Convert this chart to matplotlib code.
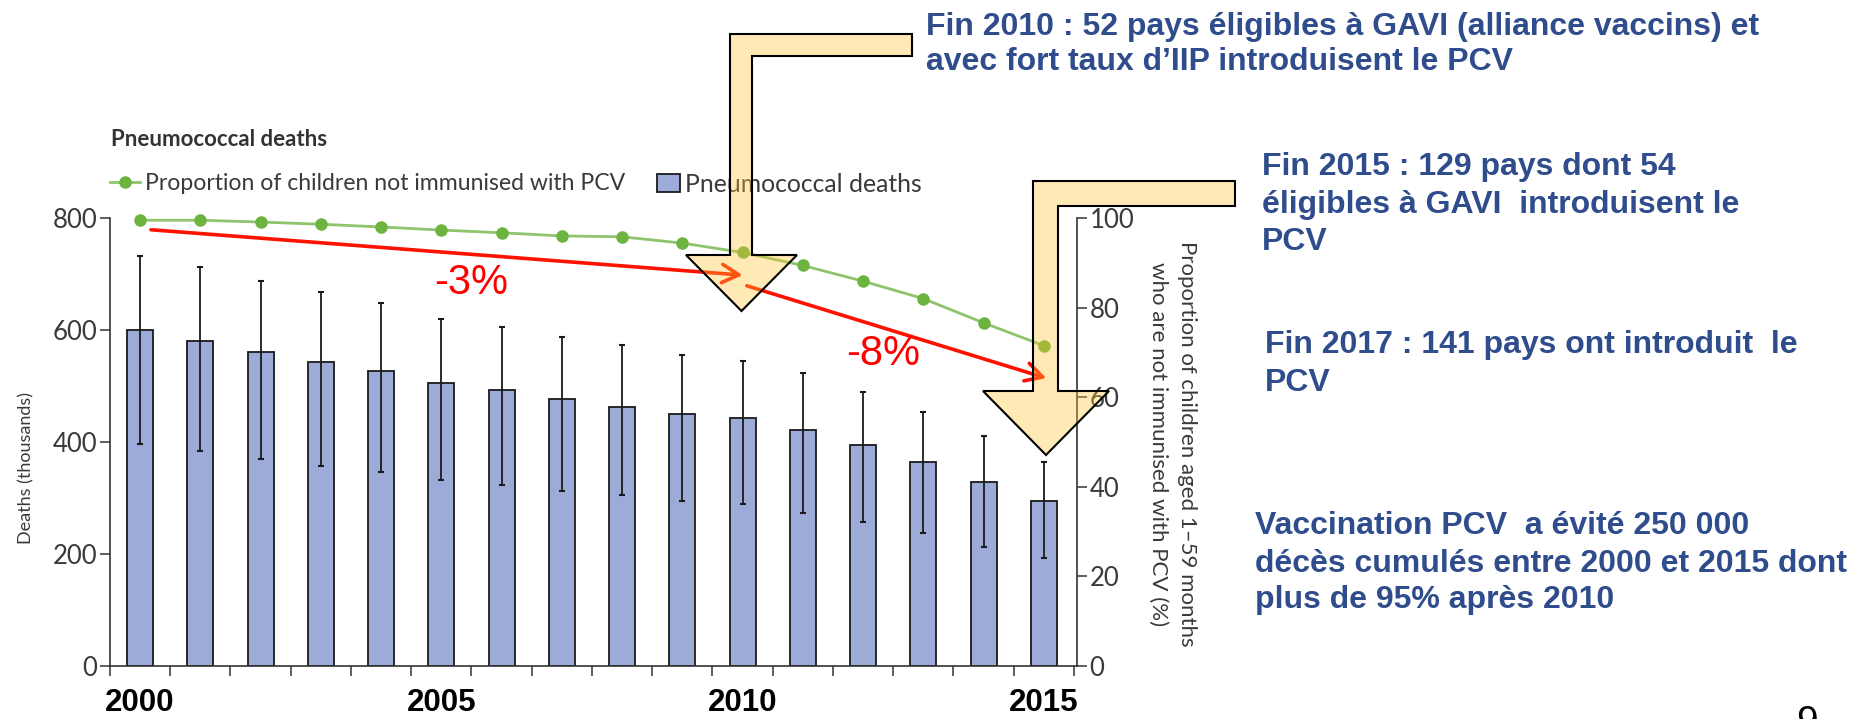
import matplotlib
matplotlib.use('Agg')
import matplotlib.pyplot as plt
from matplotlib.patches import Polygon
import numpy as np

# ---------------- data ----------------
years = [2000, 2001, 2002, 2003, 2004, 2005, 2006, 2007,
         2008, 2009, 2010, 2011, 2012, 2013, 2014, 2015]
deaths = [600, 580, 560, 542, 526, 506, 492, 476,
          463, 450, 442, 421, 395, 364, 329, 294]
deaths_hi = [733, 713, 688, 667, 648, 620, 605, 588,
             573, 555, 545, 523, 489, 454, 410, 365]
deaths_lo = [396, 384, 370, 357, 346, 332, 324, 313,
             305, 294, 289, 274, 258, 237, 213, 192]
not_immunised = [99.5, 99.5, 99.1, 98.6, 98.0, 97.3, 96.7, 96.0,
                 95.8, 94.4, 92.3, 89.4, 85.9, 82.0, 76.6, 71.5]
xtick_years = [2000, 2005, 2010, 2015]
left_ticks = [0, 200, 400, 600, 800]
right_ticks = [0, 20, 40, 60, 80, 100]

W, H = 1861, 719
fig = plt.figure(figsize=(W / 100, H / 100), dpi=100)
fig.patch.set_facecolor('white')


def fx(x):
    return x / W


def fy(y):
    return 1 - y / H


CHART_FONT = ['Lato', 'DejaVu Sans']
SANS = ['Liberation Sans', 'DejaVu Sans']
GREY = '#3a3a3a'
BLUE = '#2F4C8C'

ax = fig.add_axes([fx(110), fy(666), (1077 - 110) / W, (666 - 218) / H])

d = np.array(deaths)
yerr = [d - np.array(deaths_lo), np.array(deaths_hi) - d]
bars = ax.bar(years, deaths, width=0.43, color='#9DABD8', edgecolor='#1a1a1a',
              linewidth=1.3, zorder=2, label='Pneumococcal deaths')
ax.errorbar(years, deaths, yerr=yerr, fmt='none', ecolor='#1a1a1a',
            elinewidth=1.3, capsize=2.5, capthick=1.5, zorder=3)

ax.set_xlim(1999.5, 2015.55)
ax.set_ylim(0, 800)
ax.set_yticks(left_ticks)
ax.set_xticks(xtick_years)
ax.set_xticklabels([str(y) for y in xtick_years], fontweight='bold',
                   fontsize=22.5, family=SANS)
ax.set_xticks(np.arange(1999.5, 2016, 1.0), minor=True)
ax.tick_params(axis='x', which='major', length=0, pad=15.5)
ax.tick_params(axis='x', which='minor', length=7, width=1.1, direction='out',
               color='#333333')
ax.tick_params(axis='y', length=7, width=1.1, color='#333333', labelsize=18.5,
               labelcolor=GREY, pad=2)
for lab in ax.get_yticklabels():
    lab.set_family(CHART_FONT)
for s in ['top', 'right']:
    ax.spines[s].set_visible(False)
for s in ['left', 'bottom']:
    ax.spines[s].set_color('#333333')
    ax.spines[s].set_linewidth(1.2)

ax2 = ax.twinx()
ax2.set_ylim(0, 100)
ax2.set_yticks(right_ticks)
line, = ax2.plot(years, not_immunised, color='#8DC46C', lw=2, marker='o',
                 ms=8, mfc='#6DB33F', mec='#6DB33F', clip_on=False, zorder=4,
                 label='Proportion of children not immunised with PCV')
for s in ['top', 'left', 'bottom']:
    ax2.spines[s].set_visible(False)
ax2.spines['right'].set_color('#333333')
ax2.spines['right'].set_linewidth(1.2)
ax2.tick_params(axis='y', length=7, width=1.1, color='#333333', labelsize=18.5,
                labelcolor=GREY, pad=2)
for lab in ax2.get_yticklabels():
    lab.set_family(CHART_FONT)

# axis labels
fig.text(fx(26), fy(468), 'Deaths (thousands)', rotation=90, ha='center',
         va='center', fontsize=13, family=CHART_FONT, color=GREY)
fig.text(fx(1187), fy(444), 'Proportion of children aged 1–59 months',
         rotation=270, ha='center', va='center', fontsize=16,
         family=CHART_FONT, color=GREY)
fig.text(fx(1158), fy(444), 'who are not immunised with PCV (%)',
         rotation=270, ha='center', va='center', fontsize=16,
         family=CHART_FONT, color=GREY)

# title + legend
fig.text(fx(111), fy(139), 'Pneumococcal deaths', fontweight='bold',
         fontsize=16, family=CHART_FONT, color='#333333', va='center')
leg1 = ax2.legend(handles=[line], loc='upper left',
                  bbox_to_anchor=(fx(110), fy(173)),
                  bbox_transform=fig.transFigure, frameon=False,
                  handlelength=1.3, handletextpad=0.2, borderpad=0,
                  borderaxespad=0, prop={'family': CHART_FONT, 'size': 16.6})
for t in leg1.get_texts():
    t.set_color(GREY)
ax2.add_artist(leg1)
leg2 = ax2.legend(handles=[bars], loc='upper left',
                  bbox_to_anchor=(fx(657), fy(173)),
                  bbox_transform=fig.transFigure, frameon=False,
                  handlelength=0.95, handleheight=0.75, handletextpad=0.2,
                  borderpad=0, borderaxespad=0,
                  prop={'family': CHART_FONT, 'size': 17.8})
for t in leg2.get_texts():
    t.set_color(GREY)

# red trend arrows (data coordinates of the deaths axis)
arrow_kw = dict(arrowstyle='->,head_length=0.55,head_width=0.3', color='#FF1100',
                lw=2.6, shrinkA=0, shrinkB=0, mutation_scale=22)
ax2.annotate('', xy=(2010.0, 698), xytext=(2000.18, 779),
             xycoords=ax.transData, textcoords=ax.transData,
             arrowprops=arrow_kw, annotation_clip=False)
ax2.annotate('', xy=(2015.04, 514), xytext=(2010.07, 679),
             xycoords=ax.transData, textcoords=ax.transData,
             arrowprops=arrow_kw, annotation_clip=False)
ax2.text(2005.49, 684, '-3%', transform=ax.transData, color='#FF0000',
         fontsize=30, ha='center', va='center', family=SANS)
ax2.text(2012.33, 557, '-8%', transform=ax.transData, color='#FF0000',
         fontsize=30, ha='center', va='center', family=SANS)

# yellow block arrows (figure pixel coordinates)
arrow1 = [(730, 34), (912, 34), (912, 56), (752, 56), (752, 255), (797, 255),
          (741.5, 311), (686, 255), (730, 255)]
arrow2 = [(1033, 181), (1235, 181), (1235, 206), (1058, 206), (1058, 391),
          (1109, 391), (1046, 455), (983, 391), (1033, 391)]
for pts in (arrow1, arrow2):
    poly = Polygon([(fx(x), fy(y)) for x, y in pts], closed=True,
                   transform=fig.transFigure,
                   facecolor=(1.0, 0.77, 0.21, 0.37), edgecolor='black',
                   linewidth=1.5, zorder=5)
    fig.add_artist(poly)

# blue annotation texts
ann_kw = dict(color=BLUE, fontweight='bold', fontsize=23, family=SANS,
              ha='left', va='center')
fig.text(fx(926), fy(27), 'Fin 2010 : 52 pays éligibles à GAVI (alliance vaccins) et', **ann_kw)
fig.text(fx(926), fy(62), 'avec fort taux d’IIP introduisent le PCV', **ann_kw)
fig.text(fx(1262), fy(167), 'Fin 2015 : 129 pays dont 54', **ann_kw)
fig.text(fx(1262), fy(205), 'éligibles à GAVI  introduisent le', **ann_kw)
fig.text(fx(1262), fy(242), 'PCV', **ann_kw)
fig.text(fx(1265), fy(345), 'Fin 2017 : 141 pays ont introduit  le', **ann_kw)
fig.text(fx(1265), fy(383), 'PCV', **ann_kw)
fig.text(fx(1255), fy(526), 'Vaccination PCV  a évité 250 000', **ann_kw)
fig.text(fx(1255), fy(564), 'décès cumulés entre 2000 et 2015 dont', **ann_kw)
fig.text(fx(1255), fy(600), 'plus de 95% après 2010', **ann_kw)

# page number (partly cut off at the bottom)
fig.text(fx(1807), fy(705), '9', fontsize=28, ha='center', va='top',
         family=SANS, color='black')

fig.savefig('out.png', dpi=100, facecolor='white')
